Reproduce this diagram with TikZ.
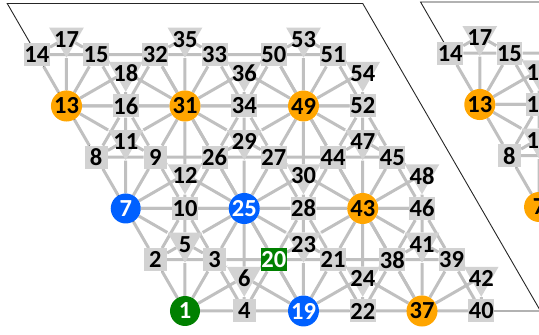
\documentclass[tikz,border=0pt]{standalone}
\usepackage{fontspec}
\setmainfont{Carlito}
\usepackage{xcolor}
\usepackage{tikz}
\usetikzlibrary{shapes.geometric,backgrounds}
\definecolor{latorange}{RGB}{255,165,0}
\definecolor{latblue}{RGB}{0,96,255}
\definecolor{latgreen}{RGB}{0,128,0}
\definecolor{latgray}{RGB}{210,210,210}
\definecolor{latline}{RGB}{192,192,192}
\newcommand\latfont{\bfseries\fontsize{24.5}{24.5}\selectfont}
\tikzset{
  latsite/.style={inner sep=0.5pt,font=\latfont},
  latvertex/.style={latsite,circle,minimum size=30pt},
  vorange/.style={latvertex,fill=latorange},
  vblue/.style={latvertex,fill=latblue,text=white},
  vgreen/.style={latvertex,fill=latgreen,text=white},
  latmid/.style={latsite,rectangle,minimum width=23pt,minimum height=23pt,fill=latgray},
  latmidgreen/.style={latmid,fill=latgreen,text=white},
  latcentre/.style={regular polygon,regular polygon sides=3,shape border rotate=180,
                    fill=latgray,minimum size=40pt,inner sep=0pt},
  latcentrelabel/.style={font=\latfont,inner sep=0pt,yshift=-1.5pt},
  latbond/.style={draw=latline,line width=3pt},
  latframe/.style={draw=black!85,line width=0.9pt}
}

% one periodic sheet: #1 name prefix, #2 shift, #3 cells i/j/vertex style/left square style
\newcommand\drawlattice[3]{%
  \begin{scope}[shift={#2}]
    \foreach \i/\j/\vs/\cs in {#3}{
      \pgfmathtruncatemacro\k{6*(3*\i+\j)}
      \pgfmathtruncatemacro\nA{\k+1}
      \pgfmathtruncatemacro\nC{\k+2}
      \pgfmathtruncatemacro\nD{\k+3}
      \pgfmathtruncatemacro\nB{\k+4}
      \pgfmathtruncatemacro\nE{\k+5}
      \pgfmathtruncatemacro\nU{\k+6}
      \node[\vs] (#1\nA) at (\i,\j) {\nA};
      \node[\cs] (#1\nC) at (\i,\j+.5) {\nC};
      \node[latmid] (#1\nD) at (\i+.5,\j+.5) {\nD};
      \node[latmid] (#1\nB) at (\i+.5,\j) {\nB};
      \node[latcentre,label={[latcentrelabel,name=#1t\nE]center:\nE}] (#1\nE)
        at (\i+1/3,\j+2/3) {};
      \node[latcentre,label={[latcentrelabel,name=#1t\nU]center:\nU}] (#1\nU)
        at (\i+2/3,\j+1/3) {};
    }
    \begin{scope}[on background layer]
      \draw[latframe] (0,0) -- (3,0) -- (3,3) -- (0,3) -- cycle;
      \foreach \i/\j/\vs/\cs in {#3}{
        \pgfmathtruncatemacro\k{6*(3*\i+\j)}
        \pgfmathtruncatemacro\nA{\k+1}
        \pgfmathtruncatemacro\nC{\k+2}
        \pgfmathtruncatemacro\nD{\k+3}
        \pgfmathtruncatemacro\nB{\k+4}
        \pgfmathtruncatemacro\nE{\k+5}
        \pgfmathtruncatemacro\nU{\k+6}
        \pgfmathtruncatemacro\nR{\k+19}
        \pgfmathtruncatemacro\nRC{\k+20}
        \pgfmathtruncatemacro\nRU{\k+25}
        \pgfmathtruncatemacro\nUp{\k+7}
        \pgfmathtruncatemacro\nUB{\k+10}
        \draw[latbond] (#1\nA) -- (#1\nB) (#1\nA) -- (#1\nD) (#1\nB) -- (#1\nD)
          (#1\nU) -- (#1\nA) (#1\nU) -- (#1\nB) (#1\nU) -- (#1\nD)
          (#1\nA) -- (#1\nC) (#1\nC) -- (#1\nD)
          (#1\nE) -- (#1\nA) (#1\nE) -- (#1\nC) (#1\nE) -- (#1\nD);
        \ifnum\i<2
          \draw[latbond] (#1\nB) -- (#1\nR) (#1\nR) -- (#1\nRC) (#1\nRC) -- (#1\nB)
            (#1\nD) -- (#1\nRC) (#1\nU) -- (#1\nR) (#1\nU) -- (#1\nRC);
          \ifnum\j<2
            \draw[latbond] (#1\nD) -- (#1\nRU) (#1\nRU) -- (#1\nRC) (#1\nU) -- (#1\nRU)
              (#1\nE) -- (#1\nRU) (#1\nUB) -- (#1\nRU);
          \fi
        \fi
        \ifnum\j<2
          \draw[latbond] (#1\nC) -- (#1\nUp) (#1\nUp) -- (#1\nUB) (#1\nUB) -- (#1\nC)
            (#1\nD) -- (#1\nUB) (#1\nE) -- (#1\nUp) (#1\nE) -- (#1\nUB);
        \fi
      }
    \end{scope}
  \end{scope}
}

\begin{document}
\begin{tikzpicture}[x={(118.5pt,0pt)},y={(-59.25pt,102.5pt)}]
  \useasboundingbox (-185pt,-24pt) rectangle (354pt,311pt);
  \drawlattice{m}{(0pt,0pt)}{0/0/vgreen/latmid,0/1/vblue/latmid,0/2/vorange/latmid,
    1/0/vblue/latmidgreen,1/1/vblue/latmid,1/2/vorange/latmid,
    2/0/vorange/latmid,2/1/vorange/latmid,2/2/vorange/latmid}
  \drawlattice{c}{(413.3pt,1.5pt)}{0/0/vorange/latmid,0/1/vorange/latmid,0/2/vorange/latmid,
    1/0/vorange/latmid,1/1/vorange/latmid,1/2/vorange/latmid,
    2/0/vorange/latmid,2/1/vorange/latmid,2/2/vorange/latmid}
\end{tikzpicture}
\end{document}
